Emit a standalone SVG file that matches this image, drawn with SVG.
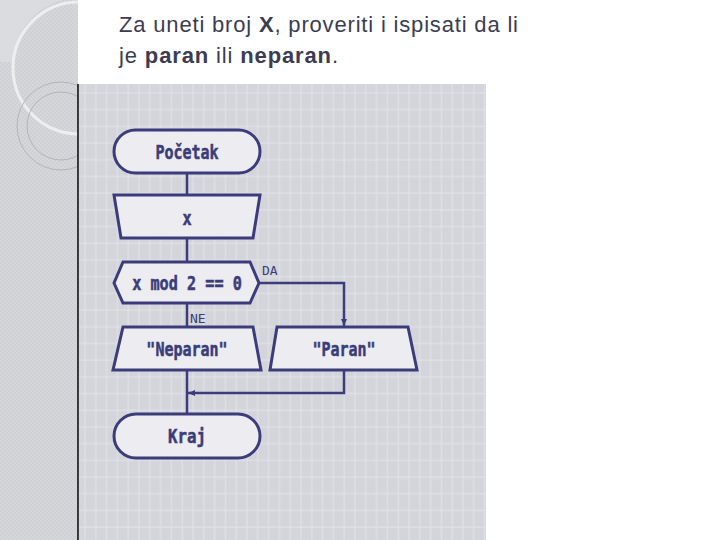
<svg xmlns="http://www.w3.org/2000/svg" width="720" height="540" viewBox="0 0 720 540">
<defs>
<pattern id="grid" x="79" y="84" width="10.8" height="16.7" patternUnits="userSpaceOnUse">
<rect width="10.8" height="16.7" fill="#d4d5db"/>
<path d="M6 0V16.7M0 9H10.8" stroke="#e1e2e7" stroke-width="1.2" fill="none"/>
</pattern>
<pattern id="dots" width="4" height="4" patternUnits="userSpaceOnUse">
<rect width="4" height="4" fill="#cfd0d5"/>
<rect width="2" height="2" fill="#d6d7db"/>
<rect x="2" y="2" width="2" height="2" fill="#d6d7db"/>
</pattern>
<marker id="arr" markerWidth="8" markerHeight="8" refX="7" refY="4" orient="auto" markerUnits="userSpaceOnUse">
<path d="M0,1 L7,4 L0,7 Z" fill="#3c3c7c"/>
</marker>
<clipPath id="strip"><rect x="0" y="0" width="78" height="540"/></clipPath>
</defs>
<style>
.shape{fill:#ececf1;stroke:#3c3c7c;stroke-width:3}
.lbl{font-family:"DejaVu Sans Mono",monospace;font-weight:bold;font-size:19px;fill:#3b3d78;text-anchor:middle;stroke:#3b3d78;stroke-width:0.5}
.small{font-family:"DejaVu Sans Mono",monospace;font-size:13px;fill:#3b3d78}
.line{fill:none;stroke:#3c3c7c;stroke-width:2.5}
.title{font-family:"Liberation Sans",Arial,sans-serif;font-size:22px;fill:#3c3c52}
</style>
<rect width="720" height="540" fill="#ffffff"/>
<g id="left-strip" clip-path="url(#strip)">
<rect x="0" y="0" width="78" height="540" fill="url(#dots)"/>
<path d="M0 0H63A66 66 0 0 0 13 62H0Z" fill="#dcdde0" opacity="0.8"/>
<circle cx="79" cy="68" r="66" fill="none" stroke="#eeeef0" stroke-width="3"/>
<circle cx="61" cy="126" r="44" fill="none" stroke="#b4b5ba" stroke-width="1"/>
<circle cx="61" cy="126" r="34" fill="none" stroke="#b4b5ba" stroke-width="1"/>
</g>
<rect x="79" y="84" width="407" height="456" fill="url(#grid)"/>
<line x1="78" y1="84" x2="78" y2="540" stroke="#000" stroke-width="1.5"/>
<g id="title">
<text class="title" x="119" y="32" textLength="399" lengthAdjust="spacing">Za uneti broj <tspan font-weight="bold">X</tspan>, proveriti i ispisati da li</text>
<text class="title" x="119" y="63" textLength="219" lengthAdjust="spacing">je <tspan font-weight="bold">paran</tspan> ili <tspan font-weight="bold">neparan</tspan>.</text>
</g>
<g id="connectors">
<line class="line" x1="187" y1="173" x2="187" y2="195"/>
<line class="line" x1="187" y1="238" x2="187" y2="262"/>
<line class="line" x1="187" y1="303" x2="187" y2="327"/>
<polyline class="line" points="259,283 344,283 344,326" marker-end="url(#arr)"/>
<line class="line" x1="187" y1="370" x2="187" y2="414"/>
<polyline class="line" points="344,370 344,393 188,393" marker-end="url(#arr)"/>
<text class="small" x="190" y="323">NE</text>
<text class="small" x="262" y="275">DA</text>
</g>
<g id="start">
<rect class="shape" x="114" y="130" width="146" height="43" rx="21.5"/>
<text class="lbl" transform="translate(187,159) scale(0.79,1)">Početak</text>
</g>
<g id="input">
<polygon class="shape" points="114,195 260,195 253,238 121,238"/>
<text class="lbl" transform="translate(187,225) scale(0.8,1)">x</text>
</g>
<g id="decision">
<polygon class="shape" points="114,283 123,262 250,262 259,283 250,303 123,303"/>
<text class="lbl" transform="translate(187,290) scale(0.8,1)">x mod 2 == 0</text>
</g>
<g id="neparan">
<polygon class="shape" points="123,327 253,327 261,370 113,370"/>
<text class="lbl" transform="translate(187,356) scale(0.79,1)">"Neparan"</text>
</g>
<g id="paran">
<polygon class="shape" points="277,327 408,327 417,370 270,370"/>
<text class="lbl" transform="translate(344,356) scale(0.79,1)">"Paran"</text>
</g>
<g id="end">
<rect class="shape" x="114" y="414" width="146" height="44" rx="22"/>
<text class="lbl" transform="translate(187,443) scale(0.83,1)">Kraj</text>
</g>
</svg>
